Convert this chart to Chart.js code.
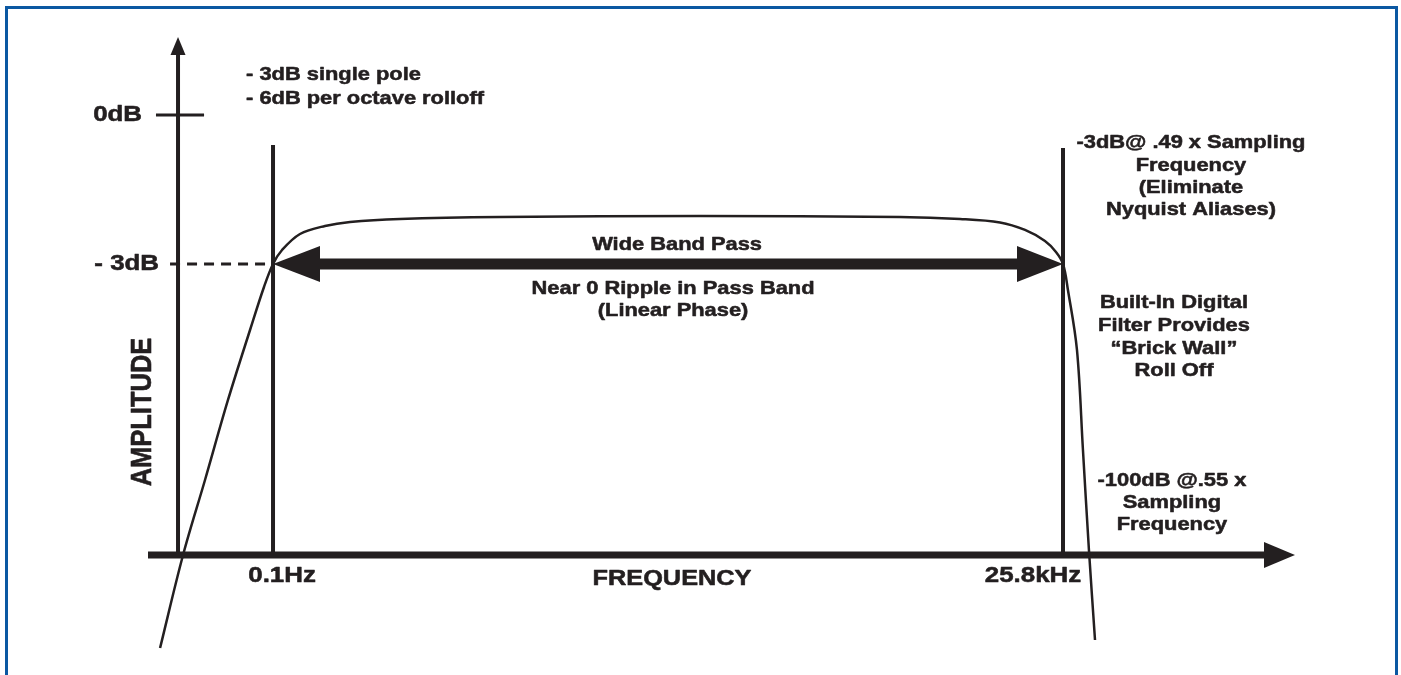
<!DOCTYPE html>
<html><head><meta charset="utf-8">
<script src="https://cdn.jsdelivr.net/npm/chart.js@4.4.1/dist/chart.umd.min.js"></script>
<style>
html,body{margin:0;padding:0;background:#fff;overflow:hidden;}
#wrap{position:relative;width:1401px;height:675px;background:#fff;}
#frame{position:absolute;left:5px;top:6px;width:1387px;height:700px;border:3px solid #0b58a2;border-bottom:none;pointer-events:none;}
canvas{position:absolute;left:0;top:0;}
</style></head>
<body><div id="wrap"><canvas id="c" width="1401" height="675"></canvas><div id="frame"></div></div>
<script>
// ---- data (x: relative frequency position, y: amplitude in dB) ----
const curveX = [-0.189, 0.053, 0.284, 0.526, 0.758, 0.905, 1.000, 1.095, 1.284, 1.547, 1.811, 2.337, 3.389, 5.495, 7.600, 8.232, 8.653, 8.916, 9.126, 9.242, 9.316, 9.368, 9.463, 9.526, 9.589, 9.653];
const curveY = [-10.731, -8.859, -7.349, -5.738, -4.329, -3.463, -3.000, -2.718, -2.396, -2.235, -2.154, -2.094, -2.054, -2.033, -2.054, -2.094, -2.164, -2.315, -2.537, -2.758, -3.000, -3.523, -4.731, -6.745, -8.758, -10.570];
const markerX = [1.0, 9.316];            // 0.1Hz and 25.8kHz cut-off lines
const markerTop = [-0.604, -0.664];
const markerLabels = ['0.1Hz', '25.8kHz'];
const markerLabelX = [1.095, 9.0];
const levelY = [0, -3];                   // 0dB and -3dB levels
const levelLabels = ['0dB', '- 3dB'];
const axisFloor = -8.859;                 // level of the frequency axis
const xAxisRange = [-0.316, 11.758];
const yAxisTop = 1.570;
const tickRange = [-0.232, 0.274];
const dashStart = -0.084;

const INK = '#231f20';
const STRETCH = 1.15;
const FONT = '"Liberation Sans", Arial, Helvetica, sans-serif';

const notes = [
  {lines:['- 3dB single pole','- 6dB per octave rolloff'], x:0.716, y:0.805, align:'left', size:19, lh:24},
  {lines:['-3dB@ .49 x Sampling','Frequency','(Eliminate','Nyquist Aliases)'], x:10.663, y:-0.564, align:'center', size:19, lh:22.4},
  {lines:['Built-In Digital','Filter Provides','\u201CBrick Wall\u201D','Roll Off'], x:10.484, y:-3.785, align:'center', size:19, lh:22.7},
  {lines:['-100dB @.55 x','Sampling','Frequency'], x:10.463, y:-7.369, align:'center', size:19, lh:22},
  {lines:['Wide Band Pass'], x:5.253, y:-2.617, align:'center', size:19, lh:22},
  {lines:['Near 0 Ripple in Pass Band','(Linear Phase)'], x:5.211, y:-3.503, align:'center', size:19, lh:22},
  {lines:['FREQUENCY'], x:5.2, y:-9.342, align:'center', size:22, lh:22}
];

function pts(xs, ys){ return xs.map((x,i)=>({x:x, y:ys[i]})); }

function drawText(ctx, s, x, y, size, align, rot){
  ctx.save();
  ctx.translate(x, y);
  ctx.scale(STRETCH, 1);
  if (rot) ctx.rotate(rot);
  ctx.font = 'bold ' + size + 'px ' + FONT;
  ctx.fillStyle = INK;
  ctx.strokeStyle = INK;
  ctx.lineWidth = 0.55;
  ctx.lineJoin = 'round';
  ctx.textAlign = align;
  ctx.textBaseline = 'middle';
  ctx.fillText(s, 0, 0);
  ctx.strokeText(s, 0, 0);
  ctx.restore();
}
function head(ctx, tx, ty, dir, len, half){
  ctx.save();
  ctx.fillStyle = INK;
  ctx.beginPath();
  ctx.moveTo(tx, ty);
  if (dir === 'up'){ ctx.lineTo(tx-half, ty+len); ctx.lineTo(tx+half, ty+len); }
  else if (dir === 'right'){ ctx.lineTo(tx-len, ty-half); ctx.lineTo(tx-len, ty+half); }
  else { ctx.lineTo(tx+len, ty-half); ctx.lineTo(tx+len, ty+half); }
  ctx.closePath();
  ctx.fill();
  ctx.restore();
}

const diagram = {
  id:'diagram',
  afterDatasetsDraw(chart){
    const ctx = chart.ctx, sx = chart.scales.x, sy = chart.scales.y;
    const X = v => sx.getPixelForValue(v), Y = v => sy.getPixelForValue(v);
    head(ctx, X(0), Y(yAxisTop), 'up', 18, 7.5);
    head(ctx, X(xAxisRange[1]), Y(axisFloor), 'right', 31, 13);
    head(ctx, X(markerX[0]), Y(levelY[1]), 'left', 47, 18);
    head(ctx, X(markerX[1]), Y(levelY[1]), 'right', 46, 18);
    drawText(ctx, levelLabels[0], X(-0.379), Y(levelY[0]), 22.5, 'right');
    drawText(ctx, levelLabels[1], X(-0.2), Y(levelY[1]), 22.5, 'right');
    markerLabels.forEach((t,i)=> drawText(ctx, t, X(markerLabelX[i]), Y(axisFloor) + 21, 22.5, 'center'));
    notes.forEach(n => n.lines.forEach((t,i)=> drawText(ctx, t, X(n.x), Y(n.y) + i*n.lh, n.size, n.align)));
    drawText(ctx, 'AMPLITUDE', X(-0.368), Y(-5.98), 25.5, 'center', -Math.PI/2);
  }
};

const lineDs = (data, w, extra) => Object.assign({data:data, borderColor:INK, borderWidth:w, pointRadius:0, borderCapStyle:'butt', fill:false, tension:0}, extra||{});

new Chart(document.getElementById('c'), {
  type:'line',
  data:{datasets:[
    lineDs(pts(curveX, curveY), 2.5, {tension:0.35, borderJoinStyle:'round'}),
    lineDs(pts([0,0],[axisFloor, yAxisTop-0.3]), 4),
    lineDs(pts(xAxisRange.map((v,i)=> i ? v-0.25 : v),[axisFloor, axisFloor]), 7),
    lineDs(pts(tickRange,[levelY[0], levelY[0]]), 3),
    lineDs(pts([dashStart, markerX[0]],[levelY[1], levelY[1]]), 3, {borderDash:[10,7]}),
    lineDs(pts([markerX[0]+0.45, markerX[1]-0.45],[levelY[1], levelY[1]]), 11),
    lineDs(pts([markerX[0], markerX[0]],[axisFloor, markerTop[0]]), 4),
    lineDs(pts([markerX[1], markerX[1]],[axisFloor, markerTop[1]]), 4)
  ]},
  options:{
    responsive:false, animation:false, devicePixelRatio:1,
    layout:{padding:0},
    plugins:{legend:{display:false}, tooltip:{enabled:false}},
    scales:{
      x:{type:'linear', min:-1.874, max:12.874, display:false},
      y:{type:'linear', min:-11.275, max:2.315, display:false}
    }
  },
  plugins:[diagram]
});
</script>
</body></html>
